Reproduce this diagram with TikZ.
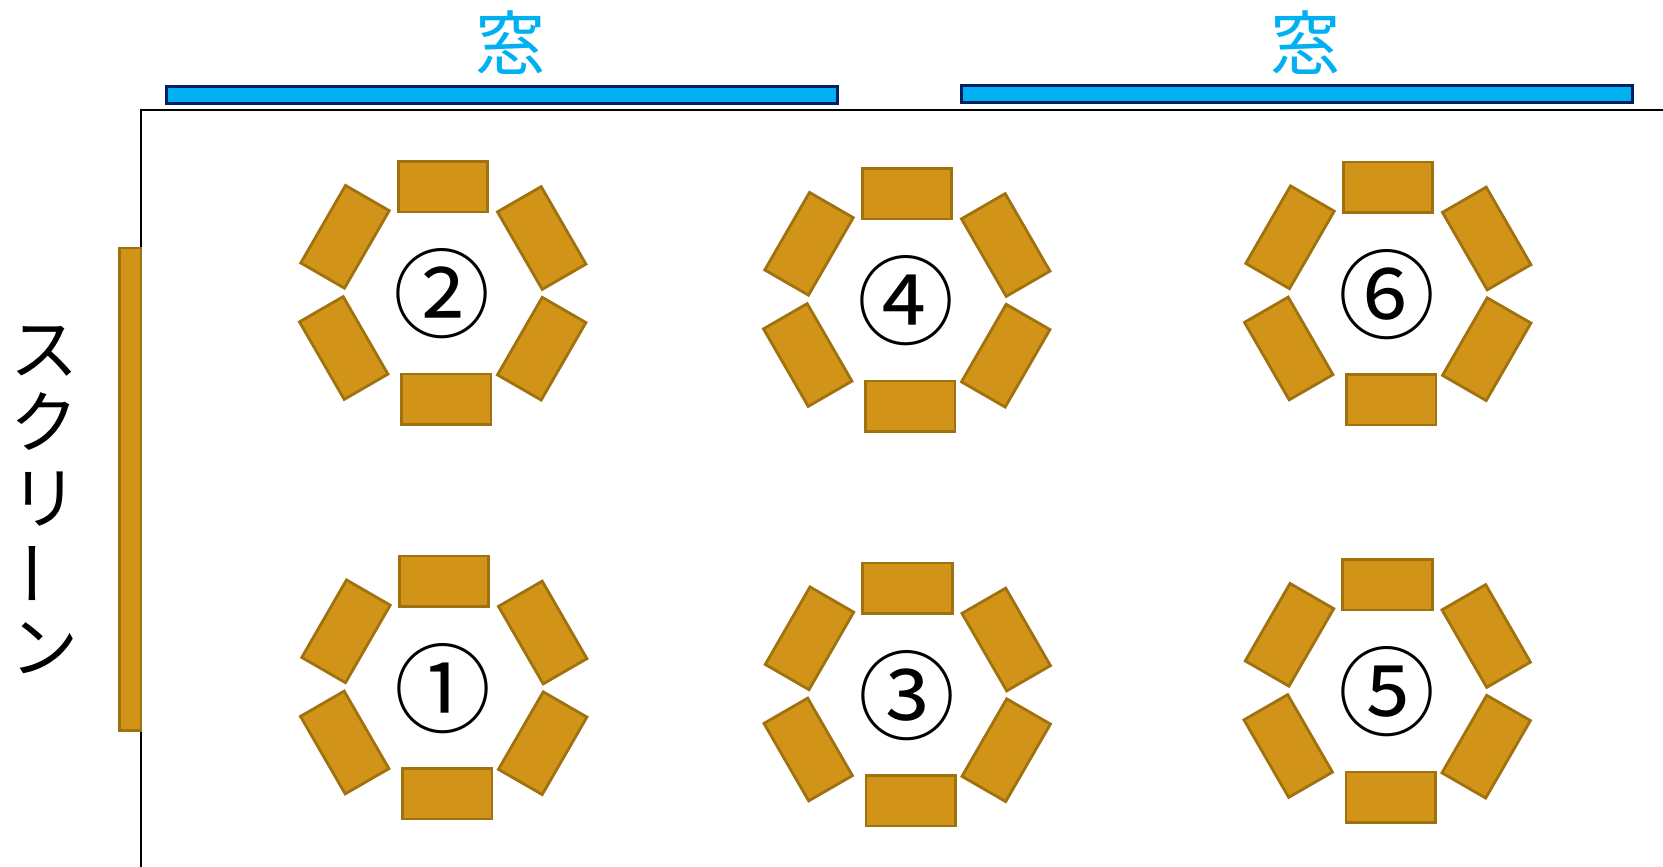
\documentclass[tikz,border=0pt]{standalone}
\usepackage{fontspec}
\newfontfamily\cjk{Noto Sans CJK JP}
\definecolor{desk}{HTML}{D19419}
\definecolor{deskline}{HTML}{A0720F}
\definecolor{winblue}{HTML}{00B0F0}
\definecolor{winline}{HTML}{002060}
\tikzset{
  desk/.style={draw=deskline,fill=desk,line width=2.8pt,minimum width=89.5pt,minimum height=50.5pt,inner sep=0pt,outer sep=0pt},
  windowbar/.style={draw=winline,fill=winblue,line width=2.8pt,inner sep=0pt,outer sep=0pt},
  wintext/.style={text=winblue,font=\cjk\fontsize{70}{70}\selectfont,inner sep=0pt},
  kana/.style={font=\cjk\fontsize{68}{68}\selectfont,inner sep=0pt},
  tablenum/.style={font=\cjk\fontsize{97}{97}\selectfont,inner sep=0pt}
}
\begin{document}
\begin{tikzpicture}[x=1pt,y=-1pt]
\useasboundingbox (0,0) rectangle (1663,867);
% room walls
\coordinate (roomtr) at (1663,110);
\coordinate (roomtl) at (141,110);
\coordinate (roombl) at (141,867);
\draw[black,line width=2.4pt] (roomtr) -- (roomtl) -- (roombl);
% screen
\node[desk,minimum width=21.5pt,minimum height=482.5pt] (screen) at (130.3,489.3) {};
\node[kana] (k1) at (44,351.5) {ス};
\node[kana] (k2) at (44,421.5) {ク};
\node[kana] (k3) at (44,499) {リ};
\node[kana,rotate=90] (k4) at (44,573) {ー};
\node[kana] (k5) at (44,648) {ン};
% windows
\node[windowbar,minimum width=671pt,minimum height=17pt] (w1) at (502,95.2) {};
\node[windowbar,minimum width=671pt,minimum height=17pt] (w2) at (1297,94) {};
\node[wintext] (t1) at (510,43) {窓};
\node[wintext] (t2) at (1305,43) {窓};
% tables
\foreach \n/\dx/\dy/\lab in {2/0/0/②,4/464/7/④,6/945/0.5/⑥,1/1/394.5/①,3/464.5/401.5/③,5/944.5/398/⑤}{
  \begin{scope}[shift={(\dx,\dy)}]
    \node[desk] (a\n) at (443,186.7) {};
    \node[desk] (b\n) at (446.3,399.3) {};
    \node[desk,rotate=60] (c\n) at (345,236.8) {};
    \node[desk,rotate=-60] (d\n) at (541.7,238) {};
    \node[desk,rotate=-60] (e\n) at (343.7,348) {};
    \node[desk,rotate=60] (f\n) at (541.7,348.7) {};
    \node[tablenum] (n\n) at (442.2,294) {\lab};
  \end{scope}
}
\end{tikzpicture}
\end{document}
